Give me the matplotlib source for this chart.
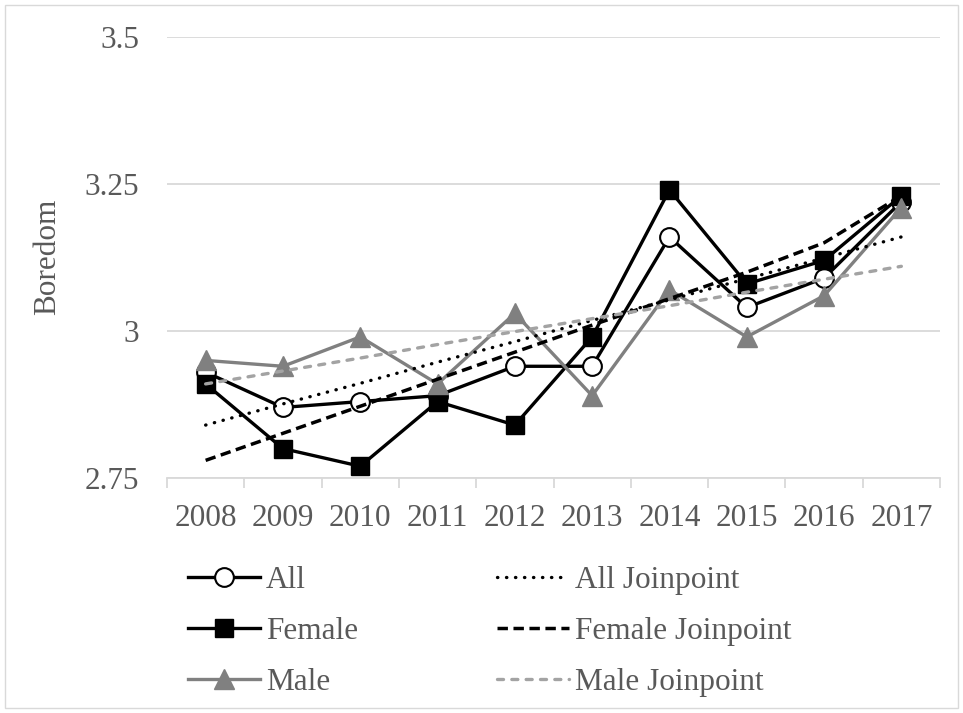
import matplotlib
matplotlib.use('Agg')
import matplotlib.pyplot as plt
import matplotlib.patches as mpatches
import numpy as np

plt.rcParams['font.family'] = ['Liberation Serif', 'DejaVu Serif']

years = ['2008', '2009', '2010', '2011', '2012', '2013', '2014', '2015', '2016', '2017']
all_vals = [2.93, 2.87, 2.88, 2.89, 2.94, 2.94, 3.16, 3.04, 3.09, 3.22]
female_vals = [2.91, 2.80, 2.77, 2.88, 2.84, 2.99, 3.24, 3.08, 3.12, 3.23]
male_vals = [2.95, 2.94, 2.99, 2.91, 3.03, 2.89, 3.07, 2.99, 3.06, 3.21]
all_jp = [2.84, 2.876, 2.911, 2.947, 2.982, 3.018, 3.053, 3.089, 3.124, 3.16]
female_jp = [2.78, 2.826, 2.872, 2.918, 2.964, 3.01, 3.055, 3.10, 3.15, 3.23]
male_jp = [2.91, 2.932, 2.954, 2.977, 2.999, 3.021, 3.043, 3.066, 3.088, 3.11]
y_ticks = [2.75, 3, 3.25, 3.5]
y_ticklabels = ['2.75', '3', '3.25', '3.5']

TEXT = '#595959'
GRID = '#d9d9d9'
MALE = '#808080'
MALE_JP = '#a3a3a3'
FS = 22.5

W, H = 963, 713
fig = plt.figure(figsize=(W / 100, H / 100), dpi=100)
ax = fig.add_axes([167 / W, 1 - 478 / H, (940 - 167) / W, (478 - 37) / H])

x = np.arange(len(years))

# data series
ax.plot(x, all_vals, color='black', lw=2.4, marker='o', ms=13.5,
        mfc='white', mec='black', mew=1.5, label='All', zorder=3)
ax.plot(x, female_vals, color='black', lw=2.4, marker='s', ms=12.5,
        mfc='black', mec='black', label='Female', zorder=3)
ax.plot(x, male_vals, color=MALE, lw=2.4, marker='^', ms=15,
        mfc=MALE, mec=MALE, label='Male', zorder=3)

# joinpoint fits
l1, = ax.plot(x, all_jp, color='black', lw=2.4, label='All Joinpoint', zorder=4)
l1.set_dashes((0.1, 2.6))
l1.set_dash_capstyle('round')
l2, = ax.plot(x, female_jp, color='black', lw=2.5, label='Female Joinpoint', zorder=4)
l2.set_dashes((3.0, 1.6))
l3, = ax.plot(x, male_jp, color=MALE_JP, lw=2.4, label='Male Joinpoint', zorder=4)
l3.set_dashes((1.8, 2.5))
l3.set_dash_capstyle('round')

ax.set_xlim(-0.5, len(years) - 0.5)
ax.set_ylim(2.75, 3.5)
ax.set_xticks(x)
ax.set_xticklabels(years)
ax.set_xticks(np.arange(-0.5, len(years), 1), minor=True)
ax.tick_params(axis='x', which='major', length=0, pad=19, labelsize=FS, labelcolor=TEXT)
ax.tick_params(axis='x', which='minor', length=7, width=1.3, color=GRID)
ax.set_yticks(y_ticks)
ax.set_yticklabels(y_ticklabels)
ax.tick_params(axis='y', length=0, pad=20, labelsize=FS, labelcolor=TEXT)
ax.yaxis.grid(True, color=GRID, lw=1.3)
ax.set_axisbelow(True)
for s in ['top', 'right', 'left']:
    ax.spines[s].set_visible(False)
ax.spines['bottom'].set_color(GRID)
ax.spines['bottom'].set_linewidth(1.3)

fig.text(48 / W, 1 - 257 / H, 'Boredom', rotation=90, ha='center', va='center',
         fontsize=FS, color=TEXT)

handles, labels = ax.get_legend_handles_labels()
fig.legend(handles, labels, ncol=2, loc='upper left',
           bbox_to_anchor=(188 / W, 1 - 566 / H), frameon=False, fontsize=FS,
           labelcolor=TEXT, handlelength=2.3, handletextpad=0.2,
           columnspacing=4.45, labelspacing=0.7, borderpad=0, borderaxespad=0)

fig.add_artist(mpatches.Rectangle((5 / W, 5 / H), 953 / W, 703 / H,
                                  transform=fig.transFigure, fill=False,
                                  edgecolor=GRID, lw=1))

fig.savefig('out.png', dpi=100)
